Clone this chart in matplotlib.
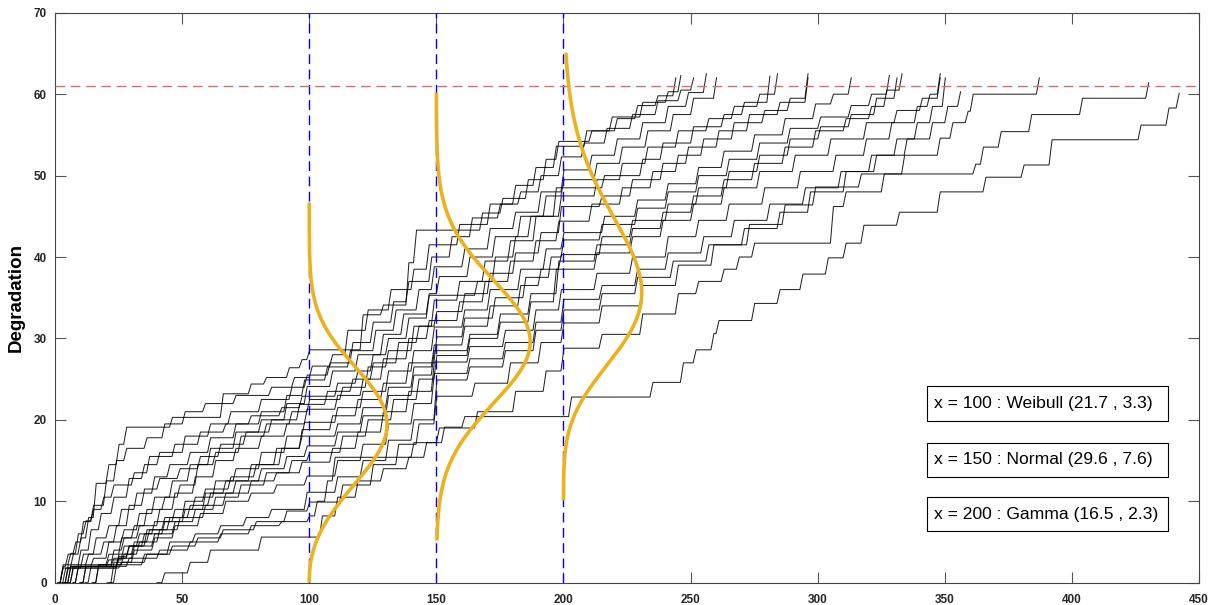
import math
import numpy as np
import matplotlib.pyplot as plt
from matplotlib.patches import Rectangle

# degradation paths: (time of jump, level after jump); first entry is where the path leaves 0
path01 = [(2.8, 0), (3, 1.8), (6, 3.5), (9, 5.5), (12, 8.0), (15, 12.2), (20, 14.5), (24, 17.0), (27, 19.1),
          (45, 20.3), (65, 23.2), (76, 24.4), (82, 25.2), (91, 26.4), (96, 27.4), (99, 28.6), (120, 32.9),
          (128, 34.1), (138, 39.3), (141, 43.3), (167, 45.4), (175, 47.2), (185, 49.5), (192, 52.0),
          (197, 54.2), (210, 55.5), (220, 57.0), (228, 58.6), (236, 59.8), (243, 62.0)]
path02 = [(1.2, 0), (2, 2.2), (5, 3.6), (8, 6.0), (11, 7.6), (14, 9.5), (19, 12.5), (23, 15.0), (27, 16.5),
          (35, 17.8), (42, 19.5), (50, 21.0), (58, 22.0), (70, 23.0), (84, 24.0), (93, 25.2), (100, 26.6),
          (108, 28.0), (114, 31.0), (122, 33.5), (131, 36.0), (140, 38.5), (146, 41.5), (158, 44.0),
          (170, 46.5), (180, 48.8), (188, 51.0), (196, 53.6), (208, 55.5), (218, 57.2), (230, 59.0),
          (240, 60.3), (245, 62.3)]
path03 = [(3.9, 0), (5, 2.0), (9, 4.0), (13, 6.5), (17, 8.5), (22, 10.5), (28, 12.8), (34, 14.5), (40, 16.0),
          (50, 18.0), (60, 19.5), (68, 21.0), (80, 22.5), (92, 24.0), (98, 25.5), (107, 27.0), (116, 29.5),
          (124, 32.0), (132, 34.5), (138, 37.0), (147, 40.0), (155, 42.5), (163, 44.8), (174, 46.5),
          (182, 48.0), (190, 50.0), (198, 52.3), (207, 54.0), (216, 55.8), (226, 57.5), (236, 59.2),
          (245, 60.5), (250, 62.0)]
path04 = [(5.1, 0), (6, 1.8), (10, 3.5), (15, 5.5), (20, 7.0), (25, 9.0), (31, 11.0), (38, 13.0), (44, 14.5),
          (52, 16.0), (60, 17.8), (70, 19.5), (80, 21.0), (90, 23.0), (97, 24.9), (106, 26.5), (115, 28.5),
          (125, 31.0), (133, 33.5), (142, 36.0), (148, 38.8), (160, 41.0), (170, 43.5), (180, 45.5),
          (190, 48.0), (199, 50.7), (210, 52.5), (220, 54.5), (230, 56.5), (240, 58.5), (248, 60.2),
          (255, 62.5)]
path05 = [(7.1, 0), (8, 2.0), (14, 3.0), (20, 5.0), (26, 6.5), (32, 8.5), (38, 10.5), (45, 12.5), (52, 14.5),
          (60, 16.5), (70, 18.5), (80, 20.0), (90, 22.0), (98, 24.1), (108, 26.0), (118, 28.0), (128, 30.5),
          (136, 33.0), (146, 35.5), (150, 37.6), (162, 40.0), (172, 42.5), (182, 45.0), (192, 47.5),
          (199, 49.5), (212, 51.5), (222, 53.5), (232, 55.5), (242, 57.5), (250, 59.5), (259, 62.0)]
path06 = [(1.2, 0), (2, 2.0), (4, 3.5), (7, 5.0), (10, 7.5), (14, 9.0), (18, 10.5), (22, 12.0), (30, 13.5),
          (36, 15.5), (46, 17.0), (56, 18.5), (66, 19.5), (76, 20.5), (88, 21.5), (96, 22.9), (110, 24.5),
          (118, 26.0), (124, 28.0), (130, 30.0), (138, 32.5), (146, 35.3), (165, 37.0), (172, 40.0),
          (180, 42.5), (186, 45.0), (196, 48.5), (215, 50.0), (230, 52.0), (238, 54.0), (250, 56.0),
          (262, 57.5), (270, 59.0), (280, 62.2)]
path07 = [(9.8, 0), (11, 2.2), (20, 3.5), (25, 5.5), (30, 7.0), (35, 9.0), (42, 10.5), (48, 12.0), (55, 14.5),
          (62, 16.0), (72, 18.0), (82, 19.5), (92, 21.0), (99, 22.5), (112, 24.0), (122, 26.5), (130, 28.5),
          (140, 31.5), (148, 34.7), (158, 37.0), (168, 39.5), (178, 42.0), (188, 45.0), (198, 47.5),
          (212, 49.5), (222, 51.5), (232, 53.5), (244, 55.5), (256, 57.0), (266, 58.5), (276, 60.0),
          (283, 62.5)]
path08 = [(2.8, 0), (4, 2.2), (12, 3.5), (18, 5.0), (23, 7.0), (28, 9.5), (34, 11.5), (40, 12.8), (48, 14.0),
          (56, 15.5), (64, 17.0), (74, 18.5), (84, 20.0), (95, 21.9), (106, 23.5), (116, 25.0), (124, 27.0),
          (134, 29.5), (142, 31.5), (149, 33.3), (160, 35.5), (170, 38.0), (180, 40.5), (190, 43.0),
          (198, 46.2), (214, 47.5), (226, 49.5), (238, 51.5), (248, 53.5), (260, 55.5), (272, 57.5),
          (284, 59.0), (295, 62.0)]
path09 = [(15, 0), (16, 2.2), (22, 4.0), (26, 5.5), (32, 7.0), (40, 9.0), (46, 11.0), (54, 13.0), (62, 15.0),
          (70, 16.5), (80, 18.0), (90, 19.5), (98, 21.3), (110, 23.0), (120, 25.0), (128, 27.5), (138, 30.0),
          (146, 32.2), (158, 34.5), (168, 37.0), (178, 39.5), (188, 42.0), (197, 44.4), (210, 46.5),
          (222, 48.5), (234, 50.5), (244, 52.5), (254, 54.5), (266, 56.5), (278, 58.0), (288, 59.5),
          (295, 62.5)]
path10 = [(3.9, 0), (5, 2.0), (20, 2.8), (26, 4.5), (32, 6.0), (38, 7.5), (46, 9.0), (54, 10.5), (62, 12.5),
          (70, 14.0), (80, 16.0), (90, 18.0), (97, 19.7), (110, 21.5), (120, 23.5), (130, 26.0), (140, 28.5),
          (148, 31.4), (160, 33.5), (170, 36.0), (182, 38.5), (192, 41.0), (199, 43.0), (215, 45.0),
          (228, 47.0), (240, 49.0), (252, 51.0), (262, 53.0), (274, 55.0), (286, 57.0), (298, 58.8),
          (305, 60.0), (312, 62.0)]
path11 = [(11.8, 0), (13, 2.0), (24, 3.2), (28, 4.5), (34, 6.0), (42, 7.5), (50, 9.0), (58, 11.0), (66, 12.5),
          (76, 14.5), (86, 16.5), (96, 18.8), (108, 20.5), (118, 22.5), (128, 24.5), (138, 27.0), (149, 30.2),
          (160, 32.5), (172, 35.0), (184, 37.5), (194, 40.0), (199, 42.1), (214, 44.0), (228, 46.0),
          (240, 48.0), (252, 50.0), (264, 52.0), (276, 54.0), (288, 55.8), (300, 57.2), (312, 58.6),
          (320, 60.0), (327, 62.3)]
path12 = [(5.1, 0), (6, 2.0), (22, 3.0), (28, 4.5), (35, 6.5), (42, 8.0), (50, 10.0), (58, 11.5), (68, 13.0),
          (78, 14.5), (88, 16.5), (96, 18.0), (110, 19.5), (120, 21.5), (130, 24.0), (140, 26.5), (148, 29.2),
          (160, 31.5), (170, 34.0), (182, 36.5), (190, 38.5), (198, 40.3), (214, 42.5), (226, 44.5),
          (240, 46.5), (252, 48.5), (264, 50.5), (276, 52.5), (288, 54.5), (300, 56.0), (312, 57.5),
          (322, 59.5), (330, 62.0)]
path13 = [(14.6, 0), (16, 2.2), (26, 3.5), (30, 5.0), (36, 6.5), (44, 8.0), (52, 9.5), (60, 11.0), (70, 12.5),
          (80, 14.0), (90, 15.5), (98, 16.8), (110, 18.5), (120, 20.5), (130, 23.0), (140, 25.5), (148, 28.5),
          (162, 30.5), (174, 33.0), (186, 35.5), (197, 39.5), (212, 41.5), (226, 43.5), (238, 45.5),
          (250, 47.5), (262, 49.5), (274, 51.5), (286, 53.5), (298, 55.5), (310, 57.0), (320, 58.5),
          (326, 60.5), (332, 62.5)]
path14 = [(2.8, 0), (4, 1.8), (24, 3.0), (30, 4.5), (38, 6.0), (46, 7.5), (54, 9.0), (62, 10.5), (72, 12.0),
          (82, 13.5), (92, 15.0), (99, 16.0), (112, 18.0), (122, 20.0), (132, 22.5), (142, 25.0), (149, 27.9),
          (162, 30.0), (174, 32.0), (186, 34.5), (196, 38.5), (212, 40.5), (226, 42.5), (238, 44.5),
          (250, 46.5), (262, 48.5), (276, 50.5), (290, 52.5), (304, 54.5), (318, 56.5), (330, 58.0),
          (340, 59.5), (347, 62.0)]
path15 = [(9.8, 0), (11, 2.0), (24, 3.5), (32, 5.0), (40, 6.5), (48, 8.0), (58, 9.5), (66, 11.0), (76, 12.5),
          (86, 13.5), (96, 14.8), (108, 16.5), (118, 18.5), (128, 21.0), (138, 23.5), (148, 27.1), (162, 29.0),
          (176, 31.0), (188, 33.5), (198, 36.0), (212, 38.0), (226, 40.0), (240, 42.5), (252, 44.5),
          (264, 46.5), (278, 48.5), (292, 50.5), (306, 52.5), (318, 54.5), (328, 56.5), (338, 58.5),
          (343, 60.0), (347, 62.5)]
path16 = [(20.5, 0), (22, 2.5), (30, 4.0), (38, 5.5), (46, 7.0), (56, 8.5), (66, 10.0), (76, 11.0), (86, 12.0),
          (98, 13.1), (110, 15.0), (120, 17.0), (130, 19.5), (140, 22.0), (148, 25.7), (162, 27.5),
          (176, 29.5), (188, 32.0), (199, 34.8), (214, 36.5), (228, 38.5), (240, 40.5), (254, 42.5),
          (266, 44.5), (280, 46.5), (294, 48.5), (308, 50.5), (320, 52.5), (330, 54.5), (338, 56.5),
          (344, 58.5), (349, 62.0)]
path17 = [(21.6, 0), (23, 2.2), (34, 3.5), (44, 5.0), (54, 6.0), (64, 7.0), (74, 8.0), (84, 9.0), (98, 11.1),
          (110, 13.0), (120, 15.0), (130, 17.5), (140, 20.0), (149, 24.9), (162, 26.5), (176, 28.5),
          (188, 31.0), (199, 33.5), (214, 35.5), (228, 37.5), (242, 39.5), (256, 41.5), (270, 43.5),
          (284, 45.5), (296, 48.0), (310, 50.5), (322, 52.5), (334, 54.5), (344, 56.5), (350, 58.5),
          (355, 60.3)]
path18 = [(1.2, 0), (2, 1.8), (25, 2.5), (35, 3.5), (45, 4.5), (55, 5.5), (65, 6.5), (78, 7.5), (90, 8.8),
          (99, 9.9), (112, 12.0), (124, 14.5), (134, 17.0), (142, 19.5), (149, 22.9), (164, 24.5), (178, 27.0),
          (190, 29.5), (199, 31.9), (214, 34.0), (230, 36.5), (244, 39.0), (258, 41.5), (272, 44.0),
          (286, 46.4), (298, 48.6), (316, 50.2), (333, 52.5), (347, 54.6), (352, 56.5), (358, 57.9),
          (360, 60.0), (386, 62.0)]
path19 = [(7.1, 0), (8, 2.0), (28, 3.0), (40, 4.0), (52, 5.0), (64, 6.0), (76, 7.0), (88, 7.5), (99, 8.2),
          (102, 10.0), (106, 12.5), (109, 15.4), (140, 17.2), (150, 19.0), (165, 21.0), (180, 23.5),
          (192, 26.0), (199, 28.8), (214, 30.5), (230, 33.0), (244, 35.5), (252, 37.0), (262, 38.5),
          (268, 40.0), (274, 41.7), (305, 46.2), (310, 48.0), (325, 50.2), (361, 51.4), (364, 53.5),
          (371, 55.4), (383, 57.5), (403, 59.5), (429, 61.4)]
path20 = [(40.1, 0), (42, 1.2), (52, 2.5), (60, 4.0), (80, 5.6), (104, 8.2), (110, 10.5), (118, 12.5),
          (128, 14.0), (138, 15.4), (145, 17.2), (152, 19.1), (160, 20.4), (202, 22.8), (234, 24.6),
          (246, 27.0), (251, 28.6), (258, 30.6), (260, 32.2), (274, 34.3), (284, 36.0), (293, 37.9),
          (303, 39.9), (310, 41.7), (317, 43.9), (331, 45.5), (347, 48.0), (365, 49.8), (380, 51.3),
          (391, 54.4), (426, 56.2), (437, 58.3), (441, 60.1)]

paths = [path01, path02, path03, path04, path05, path06, path07, path08, path09, path10,
         path11, path12, path13, path14, path15, path16, path17, path18, path19, path20]

threshold = 61
inspect_x = [100, 150, 200]
dist_labels = ['x = 100 : Weibull (21.7 , 3.3)',
               'x = 150 : Normal (29.6 , 7.6)',
               'x = 200 : Gamma (16.5 , 2.3)']


def weibull_pdf(y, lam, k):
    return (k / lam) * (y / lam) ** (k - 1) * np.exp(-(y / lam) ** k)


def normal_pdf(y, mu, sd):
    return np.exp(-0.5 * ((y - mu) / sd) ** 2) / (sd * math.sqrt(2 * math.pi))


def gamma_pdf(y, a, theta):
    return np.exp((a - 1) * np.log(y) - y / theta - math.lgamma(a) - a * math.log(theta))


def step_line(pts, w=1.2):
    xs, ys = [pts[0][0]], [0.0]
    for t, y in pts[1:]:
        xs += [t, t + w]
        ys += [ys[-1], y]
    return xs, ys


fig = plt.figure(figsize=(12.18, 6.05), dpi=100)
ax = fig.add_axes([0.0452, 0.0369, 0.9392, 0.942])

for p in paths:
    xs, ys = step_line(p)
    ax.plot(xs, ys, color='k', lw=0.75, alpha=0.85)

for xv in inspect_x:
    ax.plot([xv, xv], [0, 70], color='#0000ff', lw=1.0, ls=(0, (7, 4)), zorder=3)
ax.plot([0, 450], [threshold, threshold], color='#e8686b', lw=1.0, ls=(0, (7, 4)), zorder=3)

# densities laid sideways on the inspection lines
y1 = np.linspace(0.01, 46.7, 300)
f1 = weibull_pdf(y1, 21.7, 3.3)
y2 = np.linspace(5.2, 60.2, 300)
f2 = normal_pdf(y2, 29.6, 7.6)
y3 = np.linspace(10.1, 65.1, 300)
f3 = gamma_pdf(y3, 16.5, 2.3)
for xv, yy, ff, width in [(100, y1, f1, 30.6), (150, y2, f2, 36.9), (200, y3, f3, 30.8)]:
    ax.plot(xv + width * ff / ff.max(), yy, color='#edb120', lw=2.6, zorder=4, solid_capstyle='butt')

# parameter boxes
box_y = [19.9, 13.0, 6.3]
for by, txt in zip(box_y, dist_labels):
    ax.add_patch(Rectangle((343, by), 95, 4.2, facecolor='white', edgecolor='k', lw=0.8, zorder=5))
    ax.text(345.6, by + 2.1, txt, fontsize=12.6, family='Liberation Sans', va='center', ha='left', zorder=6)

ax.set_xlim(0, 450)
ax.set_ylim(0, 70)
ax.set_xticks(np.arange(0, 451, 50))
ax.set_yticks(np.arange(0, 71, 10))
ax.tick_params(direction='in', length=8, width=0.8, top=True, right=True, color='#555555',
               labelsize=8.5, labelcolor='#262626')
ax.tick_params(axis='x', pad=8)
ax.tick_params(axis='y', pad=6)
for lab in ax.get_xticklabels() + ax.get_yticklabels():
    lab.set_fontweight('bold')
    lab.set_family('Liberation Sans')
for s in ax.spines.values():
    s.set_color('#444444')
    s.set_linewidth(0.8)
ax.set_ylabel('Degradation', fontsize=13.5, fontweight='bold', family='Liberation Sans', labelpad=6)

fig.savefig('out.png', dpi=100)
